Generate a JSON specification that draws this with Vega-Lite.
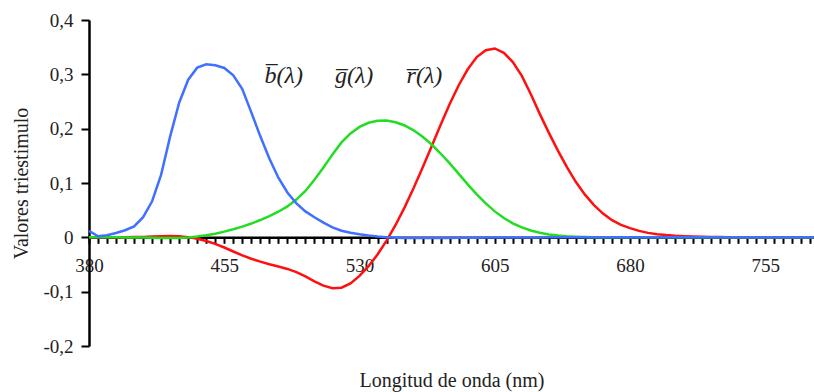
{
  "$schema": "https://vega.github.io/schema/vega-lite/v6.json",
  "autosize": {"type": "none"},
  "padding": {"left": 89, "top": 20, "right": 0, "bottom": 46},
  "width": 725,
  "height": 326,
  "background": "white",
  "view": {"stroke": null},
  "config": {"font": "Liberation Serif"},
  "layer": [
    {
      "data": {"values": [
        {"wl":380,"r":0.00003,"g":-0.00001,"b":0.012},
        {"wl":385,"r":0.00005,"g":-0.00002,"b":0.002},
        {"wl":390,"r":0.0001,"g":-0.00004,"b":0.004},
        {"wl":395,"r":0.00017,"g":-0.00007,"b":0.008},
        {"wl":400,"r":0.0003,"g":-0.00014,"b":0.013},
        {"wl":405,"r":0.00047,"g":-0.00022,"b":0.02},
        {"wl":410,"r":0.00084,"g":-0.00041,"b":0.03707},
        {"wl":415,"r":0.00139,"g":-0.0007,"b":0.06637},
        {"wl":420,"r":0.00211,"g":-0.0011,"b":0.11541},
        {"wl":425,"r":0.00266,"g":-0.00143,"b":0.18575},
        {"wl":430,"r":0.00218,"g":-0.00119,"b":0.24769},
        {"wl":435,"r":0.00036,"g":-0.00021,"b":0.29012},
        {"wl":440,"r":-0.00261,"g":0.00149,"b":0.31228},
        {"wl":445,"r":-0.00673,"g":0.00379,"b":0.3186},
        {"wl":450,"r":-0.01213,"g":0.00678,"b":0.3167},
        {"wl":455,"r":-0.01874,"g":0.01046,"b":0.31166},
        {"wl":460,"r":-0.02608,"g":0.01485,"b":0.29821},
        {"wl":465,"r":-0.03324,"g":0.01977,"b":0.27295},
        {"wl":470,"r":-0.03933,"g":0.02538,"b":0.22991},
        {"wl":475,"r":-0.04471,"g":0.03183,"b":0.18592},
        {"wl":480,"r":-0.04939,"g":0.03914,"b":0.14494},
        {"wl":485,"r":-0.05364,"g":0.04713,"b":0.10968},
        {"wl":490,"r":-0.05814,"g":0.05689,"b":0.08257},
        {"wl":495,"r":-0.06414,"g":0.06948,"b":0.06246},
        {"wl":500,"r":-0.07173,"g":0.08536,"b":0.04776},
        {"wl":505,"r":-0.0812,"g":0.10593,"b":0.03688},
        {"wl":510,"r":-0.08901,"g":0.1286,"b":0.02698},
        {"wl":515,"r":-0.09356,"g":0.15262,"b":0.01842},
        {"wl":520,"r":-0.09264,"g":0.17468,"b":0.01221},
        {"wl":525,"r":-0.08473,"g":0.19113,"b":0.0083},
        {"wl":530,"r":-0.07101,"g":0.20317,"b":0.00549},
        {"wl":535,"r":-0.05316,"g":0.21083,"b":0.0032},
        {"wl":540,"r":-0.03152,"g":0.21466,"b":0.00146},
        {"wl":545,"r":-0.00613,"g":0.21487,"b":0.00023},
        {"wl":550,"r":0.02279,"g":0.21178,"b":-0.00058},
        {"wl":555,"r":0.05514,"g":0.20588,"b":-0.00105},
        {"wl":560,"r":0.0906,"g":0.19702,"b":-0.0013},
        {"wl":565,"r":0.1284,"g":0.18522,"b":-0.00138},
        {"wl":570,"r":0.16768,"g":0.17087,"b":-0.00135},
        {"wl":575,"r":0.20715,"g":0.15429,"b":-0.00123},
        {"wl":580,"r":0.24526,"g":0.1361,"b":-0.00108},
        {"wl":585,"r":0.27989,"g":0.11686,"b":-0.00093},
        {"wl":590,"r":0.30928,"g":0.09754,"b":-0.00079},
        {"wl":595,"r":0.33184,"g":0.07909,"b":-0.00063},
        {"wl":600,"r":0.34429,"g":0.06246,"b":-0.00049},
        {"wl":605,"r":0.34756,"g":0.04776,"b":-0.00038},
        {"wl":610,"r":0.33971,"g":0.03557,"b":-0.0003},
        {"wl":615,"r":0.32265,"g":0.02583,"b":-0.00022},
        {"wl":620,"r":0.29708,"g":0.01828,"b":-0.00015},
        {"wl":625,"r":0.26348,"g":0.01253,"b":-0.00011},
        {"wl":630,"r":0.22677,"g":0.00833,"b":-0.00008},
        {"wl":635,"r":0.19233,"g":0.00537,"b":-0.00005},
        {"wl":640,"r":0.15968,"g":0.00334,"b":-0.00003},
        {"wl":645,"r":0.12905,"g":0.00199,"b":-0.00002},
        {"wl":650,"r":0.10167,"g":0.00116,"b":-0.00001},
        {"wl":655,"r":0.07857,"g":0.00066,"b":-0.00001},
        {"wl":660,"r":0.05932,"g":0.00037,"b":0},
        {"wl":665,"r":0.04366,"g":0.00021,"b":0},
        {"wl":670,"r":0.03149,"g":0.00011,"b":0},
        {"wl":675,"r":0.02294,"g":0.00006,"b":0},
        {"wl":680,"r":0.01687,"g":0.00003,"b":0},
        {"wl":685,"r":0.01187,"g":0.00001,"b":0},
        {"wl":690,"r":0.00819,"g":0,"b":0},
        {"wl":695,"r":0.00572,"g":0,"b":0},
        {"wl":700,"r":0.0041,"g":0,"b":0},
        {"wl":705,"r":0.00291,"g":0,"b":0},
        {"wl":710,"r":0.0021,"g":0,"b":0},
        {"wl":715,"r":0.00148,"g":0,"b":0},
        {"wl":720,"r":0.00105,"g":0,"b":0},
        {"wl":725,"r":0.00074,"g":0,"b":0},
        {"wl":730,"r":0.00052,"g":0,"b":0},
        {"wl":735,"r":0.00036,"g":0,"b":0},
        {"wl":740,"r":0.00025,"g":0,"b":0},
        {"wl":745,"r":0.00017,"g":0,"b":0},
        {"wl":750,"r":0.00012,"g":0,"b":0},
        {"wl":755,"r":0.00008,"g":0,"b":0},
        {"wl":760,"r":0.00006,"g":0,"b":0},
        {"wl":765,"r":0.00004,"g":0,"b":0},
        {"wl":770,"r":0.00003,"g":0,"b":0},
        {"wl":775,"r":0.00001,"g":0,"b":0},
        {"wl":780,"r":0,"g":0,"b":0},
        {"wl":782,"r":0,"g":0,"b":0}
      ]},
      "transform": [{"fold": ["r", "g", "b"], "as": ["serie", "valor"]}],
      "mark": {"type": "line", "strokeWidth": 2.5, "clip": false},
      "encoding": {
        "x": {
          "field": "wl", "type": "quantitative",
          "scale": {"domain": [380, 782], "nice": false, "zero": false},
          "axis": {
            "orient": "bottom",
            "offset": -108.67,
            "values": [380,385,390,395,400,405,410,415,420,425,430,435,440,445,450,455,460,465,470,475,480,485,490,495,500,505,510,515,520,525,530,535,540,545,550,555,560,565,570,575,580,585,590,595,600,605,610,615,620,625,630,635,640,645,650,655,660,665,670,675,680,685,690,695,700,705,710,715,720,725,730,735,740,745,750,755,760,765,770,775,780],
            "tickCount": 1000,
            "format": "d",
            "labelExpr": "(datum.value - 380) % 75 == 0 ? datum.label : ''",
            "labelOverlap": false,
            "labelFlush": false,
            "labelFont": "Liberation Serif",
            "labelFontSize": 19,
            "labelColor": "#222",
            "labelPadding": 13,
            "tickSize": 6,
            "tickWidth": 2,
            "tickColor": "black",
            "domainColor": "black",
            "domainWidth": 2.5,
            "grid": false,
            "title": "Longitud de onda (nm)",
            "titleFont": "Liberation Serif",
            "titleFontSize": 20,
            "titleFontWeight": "normal",
            "titleColor": "#222",
            "titleBaseline": "middle",
            "titleY": 143
          }
        },
        "y": {
          "field": "valor", "type": "quantitative",
          "scale": {"domain": [-0.2, 0.4], "nice": false},
          "axis": {
            "values": [-0.2, -0.1, 0, 0.1, 0.2, 0.3, 0.4],
            "labelExpr": "datum.value == 0 ? '0' : (datum.value < 0 ? '-' : '') + replace(format(abs(datum.value), '.1f'), '.', ',')",
            "labelFont": "Liberation Serif",
            "labelFontSize": 19,
            "labelColor": "#222",
            "labelPadding": 8,
            "tickSize": 8,
            "tickWidth": 2,
            "tickColor": "black",
            "domainColor": "black",
            "domainWidth": 2.5,
            "grid": false,
            "title": "Valores triestimulo",
            "titleFont": "Liberation Serif",
            "titleFontSize": 20,
            "titleFontWeight": "normal",
            "titleColor": "#222",
            "titlePadding": 11
          }
        },
        "color": {
          "field": "serie", "type": "nominal",
          "scale": {"domain": ["r", "g", "b"], "range": ["#ff1010", "#22dd22", "#4070ff"]},
          "legend": null
        }
      }
    },
    {
      "data": {"values": [
        {"wl": 488, "valor": 0.297, "etiqueta": "b\u0305(\u03bb)"},
        {"wl": 527, "valor": 0.297, "etiqueta": "g\u0305(\u03bb)"},
        {"wl": 566, "valor": 0.297, "etiqueta": "r\u0305(\u03bb)"}
      ]},
      "mark": {"type": "text", "font": "Liberation Serif", "fontStyle": "italic", "fontSize": 24, "align": "center", "baseline": "middle", "color": "#222"},
      "encoding": {
        "x": {"field": "wl", "type": "quantitative"},
        "y": {"field": "valor", "type": "quantitative"},
        "text": {"field": "etiqueta"}
      }
    }
  ]
}
